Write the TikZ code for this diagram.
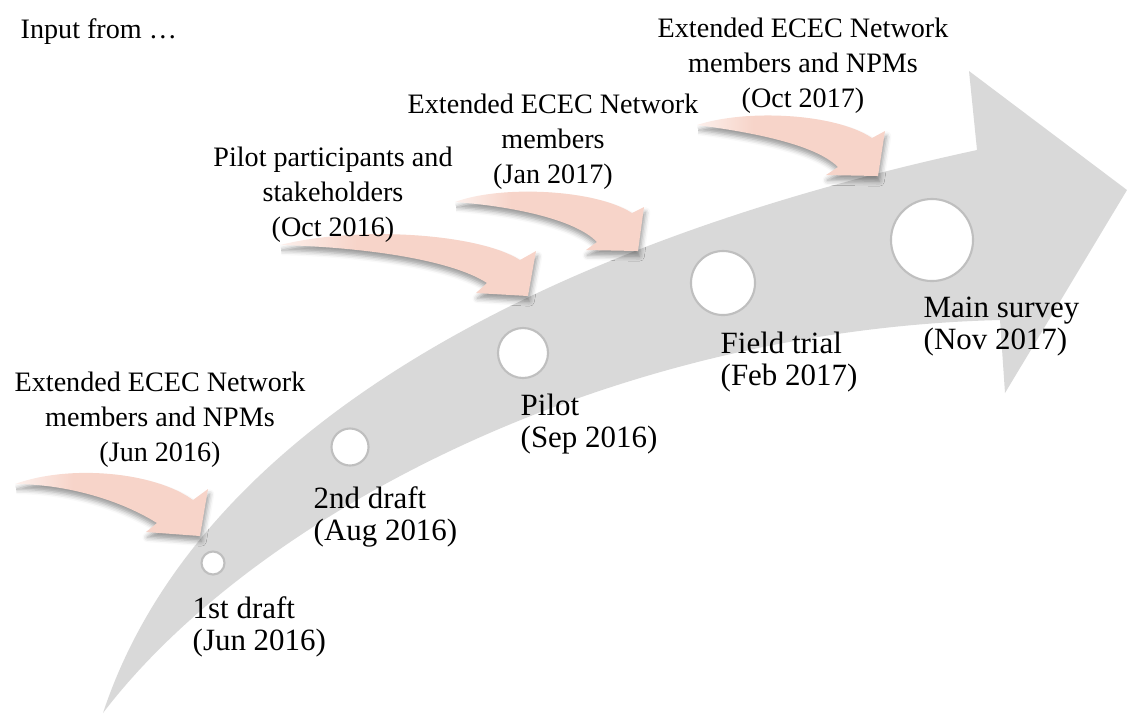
\documentclass[tikz,border=0pt]{standalone}
\usepackage{fontspec}
\setmainfont{Liberation Serif}
\usetikzlibrary{shadows.blur}

\definecolor{shaftgray}{HTML}{D9D9D9}
\definecolor{ringgray}{HTML}{BFBFBF}
\definecolor{salmon}{RGB}{247,212,201}

% pale tail fading into salmon towards the head
\pgfdeclarehorizontalshading{inputfade}{100bp}{%
  color(0bp)=(white); color(25bp)=(white!65!salmon);
  color(40bp)=(salmon); color(100bp)=(salmon)}

\tikzset{
  milestone/.style={circle, draw=ringgray, line width=0.6pt, fill=white, inner sep=0pt},
  inputarrow/.style={shading=inputfade,
    blur shadow={shadow xshift=0.4pt, shadow yshift=-1.5pt,
                 shadow blur radius=1.4pt, shadow opacity=40}},
  source/.style={align=center, inner sep=0pt, font=\fontsize{8}{10}\selectfont},
  stage/.style={align=left, anchor=west, inner sep=0pt, font=\fontsize{8.8}{9.1}\selectfont},
}

\begin{document}
\begin{tikzpicture}[x=0.01cm, y=-0.01cm]
\useasboundingbox (0,0) rectangle (1127,714);

% sweeping timeline arrow
\fill[shaftgray] (103,713) .. controls (200,420) and (560,240) .. (977,150)
  -- (969,71) -- (1127,190) -- (1005,393) -- (1000,320)
  .. controls (600,330) and (250,520) .. (103,713);

% milestones along the timeline
\node[milestone, minimum size=0.23cm] (m1) at (213,563) {};
\node[milestone, minimum size=0.37cm] (m2) at (350,447) {};
\node[milestone, minimum size=0.50cm] (m3) at (523,353) {};
\node[milestone, minimum size=0.64cm] (m4) at (723,283) {};
\node[milestone, minimum size=0.82cm] (m5) at (932,240) {};

% curved input arrows
\shade[inputarrow] (15,484) .. controls (70,464) and (155,472) .. (193,500)
  -- (208,489) -- (200,536) -- (146,532) -- (157,523)
  .. controls (115,497) and (60,484) .. (15,484);
\shade[inputarrow] (280,245) .. controls (360,225) and (480,234) .. (520,260)
  -- (536,251) -- (528,296) -- (476,293) -- (487,283)
  .. controls (450,259) and (360,247) .. (280,245);
\shade[inputarrow] (455,202) .. controls (500,185) and (595,189) .. (632,213)
  -- (644,207) -- (638,251) -- (586,250) -- (597,242)
  .. controls (575,219) and (510,206) .. (455,202);
\shade[inputarrow] (697,125) .. controls (745,109) and (835,113) .. (872,138)
  -- (885,131) -- (878,176) -- (826,175) -- (838,167)
  .. controls (815,144) and (750,132) .. (697,125);

% input sources
\node[anchor=base west, inner sep=0pt, font=\fontsize{8}{10}\selectfont] (intro) at (20,38) {Input from …};
\node[source] (src1) at (160,420) {Extended ECEC Network\\members and NPMs\\(Jun 2016)};
\node[source] (src2) at (333,195) {Pilot participants and\\stakeholders\\(Oct 2016)};
\node[source] (src3) at (553,142) {Extended ECEC Network\\members\\(Jan 2017)};
\node[source] (src4) at (803,66) {Extended ECEC Network\\members and NPMs\\(Oct 2017)};

% stage labels
\node[stage] (s1) at (192,627) {1st draft\\(Jun 2016)};
\node[stage] (s2) at (313,517) {2nd draft\\(Aug 2016)};
\node[stage] (s3) at (520,424) {Pilot\\(Sep 2016)};
\node[stage] (s4) at (720,362) {Field trial\\(Feb 2017)};
\node[stage] (s5) at (923,327) {Main survey\\(Nov 2017)};
\end{tikzpicture}
\end{document}
